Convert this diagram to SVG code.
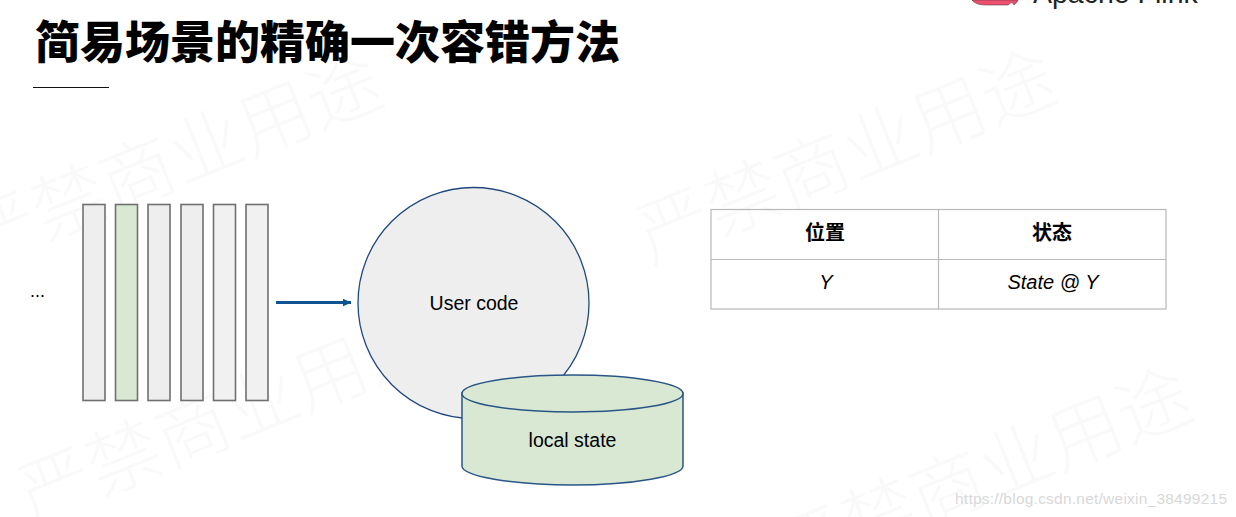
<svg xmlns="http://www.w3.org/2000/svg" width="1236" height="517" viewBox="0 0 1236 517">
<style>
.wm{font-family:"Noto Sans CJK SC",sans-serif;font-size:74px;font-weight:300;fill:#000;fill-opacity:.022}
.t{font-family:"Liberation Sans","Noto Sans CJK SC",sans-serif;fill:#000}
.bar{fill:#eeeeee;stroke:#707070;stroke-width:1.6}
.tb{stroke:#b8b8b8;stroke-width:1.2;fill:none}
</style>
<defs><marker id="ah" markerWidth="9" markerHeight="9" refX="8.500" refY="4.500" orient="auto" markerUnits="userSpaceOnUse"><path d="M0 0.500L9 4.500L0 8.500Z" fill="#0f5391"/></marker></defs>
<rect width="1236" height="517" fill="#fff"/>
<g id="watermarks">
<text class="wm" transform="translate(-24 268) rotate(-22)">严禁商业用途</text>
<text class="wm" transform="translate(650 264) rotate(-22)">严禁商业用途</text>
<text class="wm" transform="translate(31 524) rotate(-22)">严禁商业用途</text>
<text class="wm" transform="translate(786 582) rotate(-22)">严禁商业用途</text>
</g>
<g id="logo">
<path d="M972 0C975 4 980 5 987 5L1008 5L1012 2L1014 5L1017 2L1018 0Z" fill="#ef4f6f" stroke="#5a3a40" stroke-width=".6"/>
<text class="t" x="1033" y="3" font-size="28.500" style="fill:#222">Apache Flink</text>
</g>
<g id="title">
<text x="35" y="59" font-family="'Noto Sans CJK SC',sans-serif" font-size="45" font-weight="900" textLength="585" fill="#000">简易场景的精确一次容错方法</text>
<line x1="33" y1="87.500" x2="109" y2="87.500" stroke="#111" stroke-width="1"/>
</g>
<g id="dots"><text class="t" x="30" y="297" font-size="18">...</text></g>
<g id="bars">
<rect id="bar1" class="bar" x="83" y="204.500" width="22" height="196"/>
<rect id="bar2" class="bar" x="115.500" y="204.500" width="22" height="196" style="fill:#d9e8d3"/>
<rect id="bar3" class="bar" x="148" y="204.500" width="22" height="196"/>
<rect id="bar4" class="bar" x="181" y="204.500" width="22" height="196"/>
<rect id="bar5" class="bar" x="213.500" y="204.500" width="22" height="196" style="fill:#f1f1f1"/>
<rect id="bar6" class="bar" x="246" y="204.500" width="22" height="196" style="fill:#f1f1f1"/>
</g>
<g id="connectors"><line x1="276" y1="302.500" x2="351" y2="302.500" stroke="#0f5391" stroke-width="2.800" marker-end="url(#ah)"/></g>
<g id="user-code">
<circle cx="473.500" cy="303" r="115.500" fill="#eeeeee" stroke="#1f497d" stroke-width="1.300"/>
<text class="t" x="474" y="309.500" font-size="19.500" text-anchor="middle">User code</text>
</g>
<g id="local-state">
<path d="M462 393V466C462 476 511 485 572.500 485S683 476 683 466V393Z" fill="#d9e8d3" stroke="#2a5686" stroke-width="1.500"/>
<ellipse cx="572.500" cy="393.500" rx="110.500" ry="18.500" fill="#d9e8d3" stroke="#2a5686" stroke-width="1.500"/>
<text class="t" x="572.500" y="446.500" font-size="19.500" text-anchor="middle">local state</text>
</g>
<g id="table">
<rect class="tb" x="711" y="209.500" width="455" height="99.500"/>
<line class="tb" x1="711" y1="259.500" x2="1166" y2="259.500"/>
<line class="tb" x1="938.500" y1="209.500" x2="938.500" y2="309"/>
<text class="t" x="825" y="240" font-size="20" font-weight="700" text-anchor="middle">位置</text>
<text class="t" x="1052" y="240" font-size="20" font-weight="700" text-anchor="middle">状态</text>
<text class="t" x="826" y="289" font-size="20" font-style="italic" text-anchor="middle">Y</text>
<text class="t" x="1053" y="289" font-size="20" font-style="italic" text-anchor="middle">State @ Y</text>
</g>
<g id="credit"><text class="t" x="955" y="504" font-size="15.500" style="fill:#d8d8d8" textLength="272">https://blog.csdn.net/weixin_38499215</text></g>
</svg>
